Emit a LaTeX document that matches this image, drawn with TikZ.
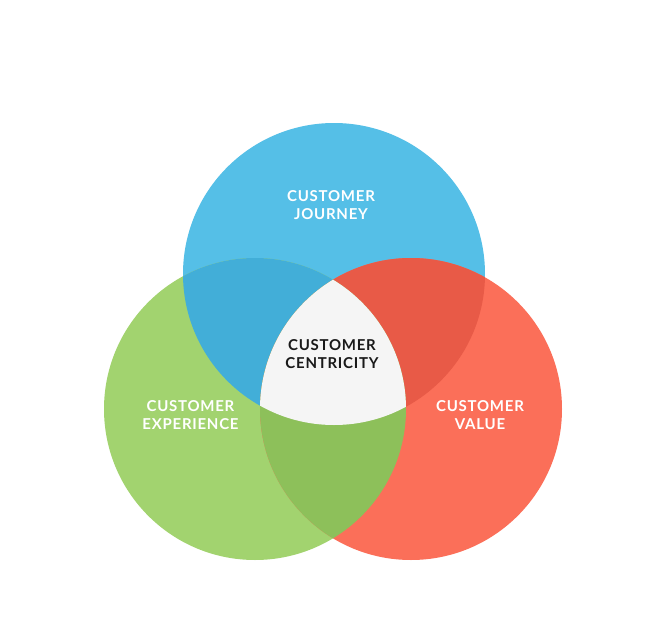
\documentclass[tikz,border=0pt]{standalone}
\usepackage{fontspec}
\newfontfamily\vennfont{Lato}[LetterSpace=5]
\definecolor{journeyblue}{HTML}{55BFE7}
\definecolor{experiencegreen}{HTML}{A2D36F}
\definecolor{valuered}{HTML}{FB6F59}
\definecolor{bluegreen}{HTML}{42AED8}
\definecolor{bluered}{HTML}{E85A47}
\definecolor{greenred}{HTML}{8DC05A}
\definecolor{centregrey}{HTML}{F5F5F5}
\tikzset{
  venntext/.style={align=center, text=white, font=\vennfont\bfseries\fontsize{15}{18.5}\selectfont},
}
\begin{document}
\begin{tikzpicture}[x=1pt,y=-1pt]
            \useasboundingbox (0,0) rectangle (665,640);
            \coordinate (journey) at (334,274);
            \coordinate (experience) at (255,409);
            \coordinate (value) at (411,409);

            \fill[journeyblue] (journey) circle[radius=151pt];
            \fill[experiencegreen] (experience) circle[radius=151pt];
            \fill[valuered] (value) circle[radius=151pt];

            \begin{scope}
                \clip (journey) circle[radius=151pt];
                \fill[bluegreen] (experience) circle[radius=151pt];
                \fill[bluered] (value) circle[radius=151pt];
            \end{scope}
            \begin{scope}
                \clip (experience) circle[radius=151pt];
                \fill[greenred] (value) circle[radius=151pt];
            \end{scope}
            \begin{scope}
                \clip (journey) circle[radius=151pt];
                \clip (experience) circle[radius=151pt];
                \fill[centregrey] (value) circle[radius=151pt];
            \end{scope}

            \node[venntext] (journeylabel) at (331,205) {CUSTOMER\\JOURNEY};
            \node[venntext] (experiencelabel) at (190.5,415) {CUSTOMER\\EXPERIENCE};
            \node[venntext] (valuelabel) at (480,415) {CUSTOMER\\VALUE};
            \node[venntext, text=black!90] (centricitylabel) at (332,354) {CUSTOMER\\CENTRICITY};
        \end{tikzpicture}
\end{document}
